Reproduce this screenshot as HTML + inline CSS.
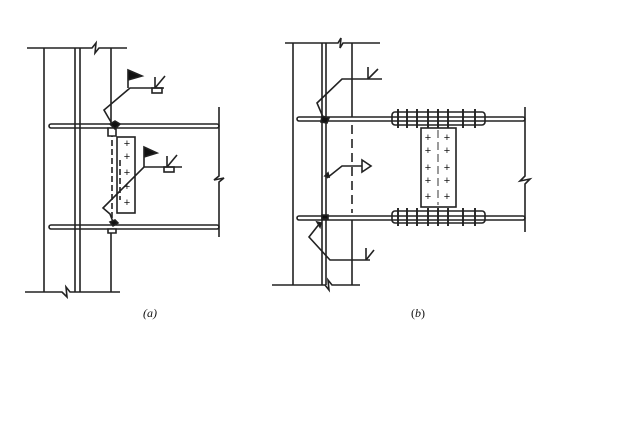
<!DOCTYPE html>
<html><head><style>html,body{margin:0;padding:0;background:#fff;width:636px;height:429px;overflow:hidden}</style></head>
<body>
<svg width="636" height="429" viewBox="0 0 636 429" xmlns="http://www.w3.org/2000/svg" font-family="Liberation Serif, serif">
<g stroke="#222" stroke-width="1.6" fill="none">
<!-- (a) column -->
<polyline points="27,48 92,48 96,43 95,53 99,48 127,48"/>
<polyline points="25,292 62,292 67,297 66,287 70,292 120,292"/>
<line x1="44" y1="48" x2="44" y2="292"/>
<line x1="75" y1="48" x2="75" y2="292"/>
<line x1="80" y1="48" x2="80" y2="292"/>
<line x1="111" y1="48" x2="111" y2="123"/>
<line x1="111" y1="230" x2="111" y2="292"/>
<!-- beams a -->
<rect x="49" y="124" width="170" height="4" rx="2"/>
<rect x="49" y="225" width="170" height="4" rx="2"/>
<polyline points="219,107 219,176 214,180 224,178 219,182 219,237"/>
<rect x="117" y="137" width="18" height="76"/>
<line x1="112" y1="131" x2="112" y2="220" stroke-dasharray="6,3"/>
<line x1="120" y1="160" x2="120" y2="200" stroke-dasharray="6,3"/>
<path d="M108,128 h8 v8 h-8z M108,229 h8 v4 h-8z" fill="#fff"/>
<!-- weld symbols a -->
<polyline points="164,88 130,88 104,110 108,117 111,122"/>
<path d="M128,88 V70 L142,76 L128,80Z" fill="#111"/>
<rect x="152" y="88" width="10" height="5"/>
<line x1="155" y1="77" x2="155" y2="88"/><line x1="155" y1="88" x2="165" y2="76"/>
<polyline points="182,167 144,167 103,208 110,214 113,222"/>
<path d="M144,167 V147 L157,153 L144,157Z" fill="#111"/>
<rect x="164" y="167" width="10" height="5"/>
<line x1="167" y1="156" x2="167" y2="167"/><line x1="167" y1="167" x2="177" y2="155"/>
<path d="M110,124 l5,-3 5,3 -5,5z M110,222 l5,-2 3,3 -5,3z" fill="#111"/>
<!-- (b) column -->
<polyline points="285,43 338,43 341,38 340,48 343,43 380,43"/>
<polyline points="272,285 325,285 329,290 328,280 332,285 360,285"/>
<line x1="293" y1="43" x2="293" y2="285"/>
<line x1="322" y1="43" x2="322" y2="285"/>
<line x1="326" y1="43" x2="326" y2="285"/>
<line x1="352" y1="43" x2="352" y2="117"/>
<line x1="352" y1="125" x2="352" y2="213" stroke-dasharray="9,5"/>
<line x1="352" y1="220" x2="352" y2="285"/>
<rect x="297" y="117" width="228" height="4" rx="2"/>
<rect x="297" y="216" width="228" height="4" rx="2"/>
<polyline points="525,107 525,176 520,181 530,179 525,184 525,232"/>
<rect x="392" y="112" width="93" height="13" rx="3"/>
<rect x="392" y="211" width="93" height="12" rx="3"/>
<g stroke-width="1.9">
<path d="M398,109v19M407,109v19M417,109v19M428,109v19M438,109v19M448,109v19M463,109v19M475,109v19"/>
<path d="M398,208v18M407,208v18M417,208v18M428,208v18M438,208v18M448,208v18M463,208v18M475,208v18"/>
</g>
<rect x="421" y="128" width="35" height="79" fill="#fff"/>
<line x1="438" y1="130" x2="438" y2="205" stroke-dasharray="8,4" stroke-width="0.9"/>
<!-- weld b -->
<polyline points="382,79 342,79 317,103 323,117"/>
<line x1="368" y1="79" x2="368" y2="67"/><line x1="368" y1="79" x2="378" y2="69"/>
<polyline points="362,166 342,166 327,178"/>
<path d="M362,160 V172 L371,166Z"/>
<polyline points="320,223 309,237 330,260 370,260"/>
<line x1="366" y1="260" x2="366" y2="248"/><line x1="366" y1="260" x2="374" y2="250"/>
<path d="M322,116 l7,2 -2,5 -6,-1z M325,176 l3,-3 1,4z M322,215 l6,0 0,4 -6,0z M317,222 l4,1 -1,4z" fill="#111"/>
</g>
<g font-size="12" fill="#111" text-anchor="middle">
<text x="150" y="317" font-style="italic">(a)</text>
<text x="418" y="317">(<tspan font-style="italic">b</tspan>)</text>
</g>
<g font-size="11" fill="#111" font-family="Liberation Sans, sans-serif" text-anchor="middle">
<text x="127" y="147">+</text><text x="127" y="160">+</text><text x="127" y="176">+</text><text x="127" y="190">+</text><text x="127" y="206">+</text>
<text x="428" y="141">+</text><text x="447" y="141">+</text>
<text x="428" y="154">+</text><text x="447" y="154">+</text>
<text x="428" y="171">+</text><text x="447" y="171">+</text>
<text x="428" y="184">+</text><text x="447" y="184">+</text>
<text x="428" y="200">+</text><text x="447" y="200">+</text>
</g>
</svg>
</body></html>
